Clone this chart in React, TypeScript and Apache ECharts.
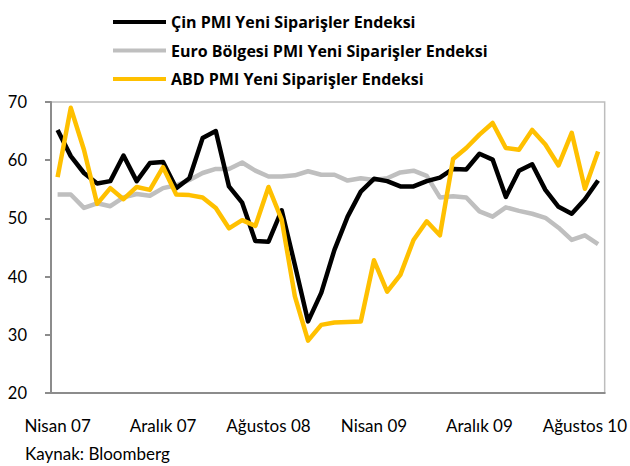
import React, { useEffect, useRef } from "react";
import * as echarts from "echarts";

const months = [
  "Nisan 07", "Mayıs 07", "Haziran 07", "Temmuz 07", "Ağustos 07", "Eylül 07", "Ekim 07", "Kasım 07",
  "Aralık 07", "Ocak 08", "Şubat 08", "Mart 08", "Nisan 08", "Mayıs 08", "Haziran 08", "Temmuz 08",
  "Ağustos 08", "Eylül 08", "Ekim 08", "Kasım 08", "Aralık 08", "Ocak 09", "Şubat 09", "Mart 09",
  "Nisan 09", "Mayıs 09", "Haziran 09", "Temmuz 09", "Ağustos 09", "Eylül 09", "Ekim 09", "Kasım 09",
  "Aralık 09", "Ocak 10", "Şubat 10", "Mart 10", "Nisan 10", "Mayıs 10", "Haziran 10", "Temmuz 10",
  "Ağustos 10", "Eylül 10",
];

const china = [
  65.2, 60.7, 57.8, 56.0, 56.4, 60.8, 56.4, 59.5, 59.7, 55.2,
  56.9, 63.8, 65.0, 55.5, 52.7, 46.1, 46.0, 51.4, 42.0, 32.3,
  37.2, 44.6, 50.3, 54.6, 56.8, 56.4, 55.5, 55.5, 56.4, 57.0,
  58.5, 58.4, 61.1, 60.1, 53.7, 58.2, 59.3, 54.9, 52.0, 50.8,
  53.3, 56.5,
];

const euro = [
  54.1, 54.1, 51.8, 52.6, 52.1, 53.6, 54.2, 53.9, 55.2, 55.7,
  56.6, 57.8, 58.5, 58.5, 59.6, 58.2, 57.2, 57.2, 57.4, 58.1,
  57.5, 57.5, 56.5, 56.9, 56.6, 56.9, 57.9, 58.2, 57.3, 53.6,
  53.8, 53.6, 51.2, 50.3, 51.9, 51.3, 50.8, 50.1, 48.4, 46.3,
  47.1, 45.6,
];

const usa = [
  57.1, 69.0, 61.8, 52.5, 55.2, 53.3, 55.4, 54.9, 58.8, 54.1,
  54.0, 53.6, 51.8, 48.3, 49.7, 48.7, 55.4, 49.8, 36.6, 29.0,
  31.7, 32.1, 32.2, 32.3, 42.8, 37.4, 40.3, 46.3, 49.5, 47.1,
  60.2, 62.1, 64.4, 66.4, 62.1, 61.8, 65.2, 62.7, 59.1, 64.7,
  55.1, 61.5,
];

const seriesNames = [
  "Çin PMI Yeni Siparişler Endeksi",
  "Euro Bölgesi PMI Yeni Siparişler Endeksi",
  "ABD PMI Yeni Siparişler Endeksi",
];

const FONT = "Lato, 'Noto Sans', sans-serif";
const LEGEND_FONT = "'Open Sans', 'Noto Sans', sans-serif";

export default function App() {
  const ref = useRef<HTMLDivElement>(null);
  useEffect(() => {
    if (!ref.current) return;
    const chart = echarts.init(ref.current, null, { renderer: "svg" });
    const colors = ["#000000", "#BFBFBF", "#FFC000"];
    const datas = [china, euro, usa];
    chart.setOption({
      animation: false,
      backgroundColor: "#ffffff",
      textStyle: { fontFamily: FONT },
      legend: {
        orient: "vertical",
        left: 108,
        top: 9,
        icon: "rect",
        itemWidth: 53,
        itemHeight: 4,
        itemGap: 12.5,
        textStyle: { fontFamily: LEGEND_FONT, fontSize: 16, fontWeight: "bold", color: "#000" },
        data: seriesNames,
      },
      grid: { left: 51, right: 20, top: 102, bottom: 73, show: true, borderColor: "#BDBDBD", borderWidth: 1.5 },
      xAxis: {
        type: "category",
        data: months,
        boundaryGap: true,
        axisLine: { lineStyle: { color: "#8C8C8C", width: 2 } },
        axisTick: { interval: 7, length: 5, lineStyle: { color: "#8C8C8C", width: 2 } },
        axisLabel: { interval: 7, margin: 24, fontSize: 17, color: "#000", fontFamily: FONT },
        splitLine: { show: false },
      },
      yAxis: {
        type: "value",
        min: 20,
        max: 70,
        interval: 10,
        axisLine: { show: true, lineStyle: { color: "#8C8C8C", width: 2 } },
        axisTick: { show: true, length: 6, lineStyle: { color: "#8C8C8C", width: 2 } },
        axisLabel: { margin: 24, fontSize: 16.5, color: "#000", fontFamily: FONT },
        splitLine: { show: false },
      },
      series: seriesNames.map((name, i) => ({
        name,
        type: "line",
        data: datas[i],
        symbol: "none",
        color: colors[i],
        lineStyle: { color: colors[i], width: 4.5, join: "round" },
        z: i === 1 ? 1 : i === 0 ? 2 : 3,
      })),
      graphic: [
        {
          type: "text",
          left: 25,
          top: 445,
          style: { text: "Kaynak: Bloomberg", fontSize: 17, fontFamily: FONT, fill: "#000" },
        },
      ],
    });
    return () => chart.dispose();
  }, []);
  return <div ref={ref} style={{ width: 630, height: 466, position: "absolute", left: 0, top: 0 }} />;
}
